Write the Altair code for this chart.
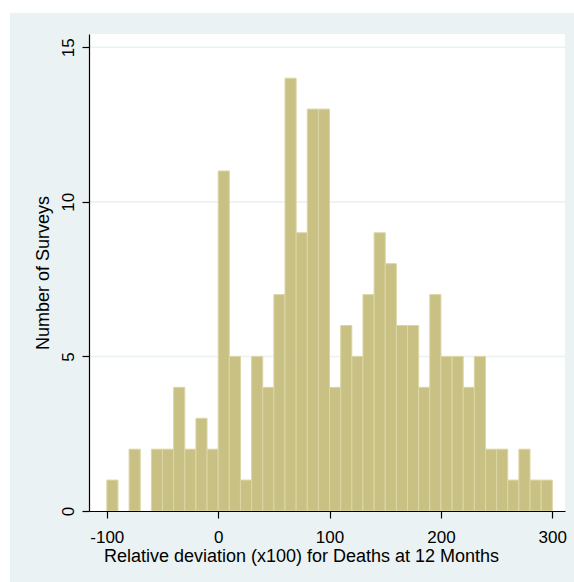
import altair as alt
import pandas as pd

# Histogram of relative deviation, bins of width 10 from -100 to 300
bin_starts = list(range(-100, 300, 10))
counts = [1, 0, 2, 0, 2, 2, 4, 2, 3, 2,
          11, 5, 1, 5, 4, 7, 14, 9, 13, 13,
          4, 6, 5, 7, 9, 8, 6, 6, 4, 7,
          5, 5, 4, 5, 2, 2, 1, 2, 1, 1]
x_ticks = [-100, 0, 100, 200, 300]
y_ticks = [0, 5, 10, 15]

bars = pd.DataFrame({
    "start": bin_starts,
    "end": [s + 10 for s in bin_starts],
    "count": counts,
})
bars = bars[bars["count"] > 0]
grid = pd.DataFrame({"count": [t for t in y_ticks if t > 0]})

W, H = 476, 477
PAD = {"left": 89, "top": 34, "right": 9, "bottom": 71}
BG = "#EAF2F3"
FONT = "Liberation Sans"

xscale = alt.Scale(domain=[-116, 311.4], nice=False, zero=False)
yscale = alt.Scale(domain=[0, 15.43], nice=False)

x_axis = alt.Axis(
    values=x_ticks, grid=False, title="Relative deviation (x100) for Deaths at 12 Months",
    domainColor="black", tickColor="black", tickSize=7, domainWidth=1.2, tickWidth=1.2,
    labelFontSize=17, labelColor="black", labelFont=FONT, labelExpr="'' + datum.value",
    labelBaseline="alphabetic", labelPadding=24, labelFlush=False,
    titleFont=FONT, titleFontSize=18, titleFontWeight="normal", titleColor="black",
    titleAnchor="start", titleAlign="center", titleBaseline="alphabetic",
    titleX=212, titleY=50, zindex=1,
)
y_axis = alt.Axis(
    values=y_ticks, grid=False, title="Number of Surveys",
    domainColor="black", tickColor="black", tickSize=7, domainWidth=1.2, tickWidth=1.2,
    labelFontSize=17, labelColor="black", labelFont=FONT,
    labelAngle=270, labelAlign="center", labelBaseline="alphabetic", labelPadding=9,
    labelFlush=False,
    titleFont=FONT, titleFontSize=18, titleFontWeight="normal", titleColor="black",
    titleAngle=270, titleAlign="center", titleBaseline="alphabetic",
    titleX=-41, titleY=H / 2, zindex=1,
)

# light panel behind the whole graph, leaving a thin white margin at top/left
panel = alt.Chart(pd.DataFrame({"k": [0]})).mark_rect(color=BG).encode(
    x=alt.value(-79), x2=alt.value(W + PAD["right"]),
    y=alt.value(-21), y2=alt.value(H + PAD["bottom"]),
)
plot_bg = alt.Chart(pd.DataFrame({"k": [0]})).mark_rect(color="white").encode(
    x=alt.value(0), x2=alt.value(W), y=alt.value(0), y2=alt.value(H),
)
gridlines = alt.Chart(grid).mark_rule(color=BG, strokeWidth=1.6).encode(
    y=alt.Y("count:Q", scale=yscale, axis=y_axis),
)

hist = alt.Chart(bars).mark_rect(
    color="#C8C183", stroke="#DCD6A6", strokeWidth=1
).encode(
    x=alt.X("start:Q", scale=xscale, axis=x_axis),
    x2="end:Q",
    y=alt.Y("count:Q", scale=yscale, axis=y_axis),
    y2=alt.datum(0),
)

chart = alt.layer(panel, plot_bg, gridlines, hist).properties(
    width=W, height=H, padding=PAD, autosize="none", background="white",
).configure_view(stroke=None, fill=None)

chart.save("out.html", embed_options={"renderer": "svg", "actions": False})
